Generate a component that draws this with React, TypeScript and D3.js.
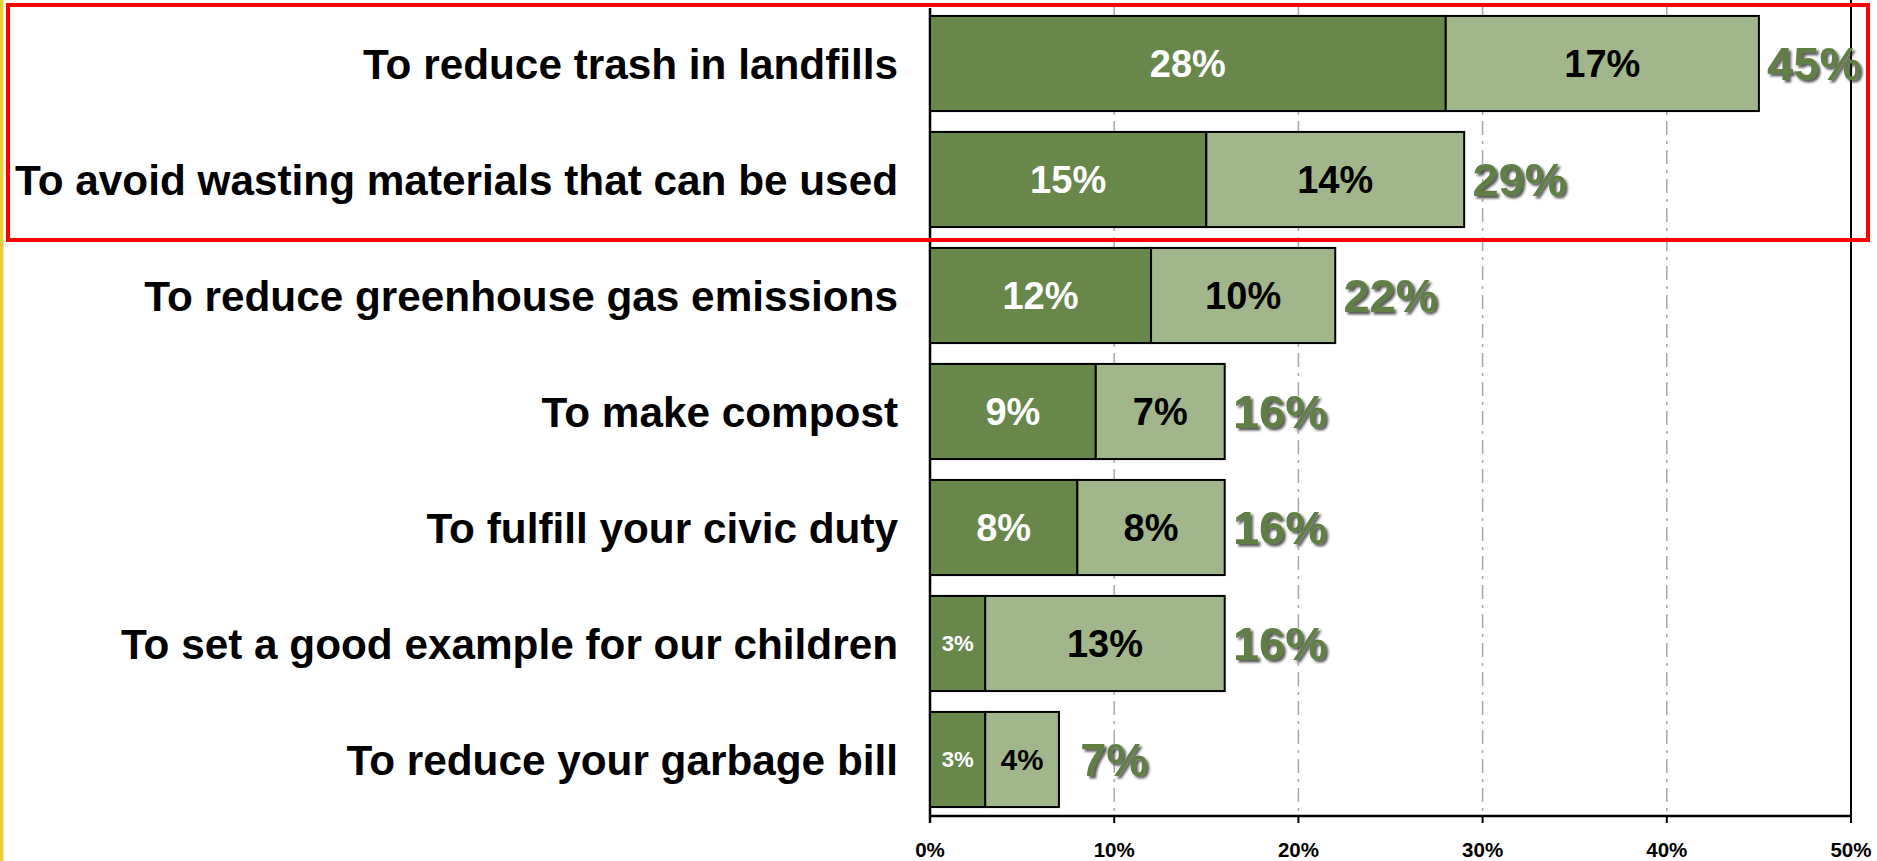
import React, { useEffect } from 'react'
import * as d3 from 'd3'

const categories = [
  'To reduce trash in landfills',
  'To avoid wasting materials that can be used',
  'To reduce greenhouse gas emissions',
  'To make compost',
  'To fulfill your civic duty',
  'To set a good example for our children',
  'To reduce your garbage bill',
]
const primaryValues = [28, 15, 12, 9, 8, 3, 3]
const secondaryValues = [17, 14, 10, 7, 8, 13, 4]
const totalValues = [45, 29, 22, 16, 16, 16, 7]
const xTicks = [0, 10, 20, 30, 40, 50]

const WIDTH = 1877
const HEIGHT = 861
const DARK = '#67874b'
const LIGHT = '#a1b68b'
const TOTAL_COLOR = '#5f7f44'
const FONT = '"Liberation Sans", Arial, sans-serif'

export default function App() {
  useEffect(() => {
    document.body.style.margin = '0'
  }, [])

  const x = d3.scaleLinear().domain([0, 50]).range([930, 1851])
  const y = d3
    .scaleBand<string>()
    .domain(categories)
    .range([5.5, 817.5])
    .paddingInner(0.18)
    .paddingOuter(0.09)
  const bw = y.bandwidth()
  const axisY = 816

  const rows = categories.map((c, i) => ({
    name: c,
    a: primaryValues[i],
    b: secondaryValues[i],
    total: totalValues[i],
  }))

  // smaller font for narrow segments
  const segFont = (w: number) => Math.min(38, w * 0.4)

  return (
    <div style={{ position: 'absolute', left: 0, top: 0 }}>
      <svg width={WIDTH} height={HEIGHT} style={{ display: 'block', background: '#fff' }}>
        <defs>
          <filter id="shadow" x="-20%" y="-20%" width="150%" height="150%">
            <feDropShadow dx="2.5" dy="2.5" stdDeviation="1.2" floodColor="#222" floodOpacity="0.75" />
          </filter>
        </defs>

        {/* yellow strip on the left */}
        <rect x={0} y={0} width={3.5} height={HEIGHT} fill="#e8cf3c" />

        {/* gridlines */}
        {xTicks
          .filter((t) => t > 0 && t < 50)
          .map((t) => (
            <line
              key={'g' + t}
              x1={x(t)}
              x2={x(t)}
              y1={5}
              y2={axisY}
              stroke="#a8a8a8"
              strokeWidth={1.5}
              strokeDasharray="14 6 3 6"
            />
          ))}

        {/* plot borders */}
        <line x1={x(0)} x2={x(0)} y1={8} y2={axisY + 7} stroke="#000" strokeWidth={2.5} />
        <line x1={x(50)} x2={x(50)} y1={0} y2={axisY + 7} stroke="#000" strokeWidth={2} />
        <line x1={x(0)} x2={x(50)} y1={axisY} y2={axisY} stroke="#000" strokeWidth={2.5} />

        {/* ticks and tick labels */}
        {xTicks.map((t) => (
          <g key={'t' + t}>
            <line x1={x(t)} x2={x(t)} y1={axisY} y2={axisY + 7} stroke="#000" strokeWidth={2} />
            <text
              x={x(t)}
              y={857}
              textAnchor="middle"
              fontFamily={FONT}
              fontWeight="bold"
              fontSize={20.5}
              fill="#000"
            >
              {t}%
            </text>
          </g>
        ))}

        {/* bars */}
        {rows.map((r) => {
          const top = y(r.name) as number
          const cy = top + bw / 2
          const x0 = x(0)
          const x1 = x(r.a)
          const x2 = x(r.a + r.b)
          const fa = segFont(x1 - x0)
          const fb = segFont(x2 - x1)
          return (
            <g key={r.name}>
              <rect x={x0} y={top} width={x1 - x0} height={bw} fill={DARK} stroke="#000" strokeWidth={2} />
              <rect x={x1} y={top} width={x2 - x1} height={bw} fill={LIGHT} stroke="#000" strokeWidth={2} />
              <text
                x={(x0 + x1) / 2}
                y={cy + fa * 0.36}
                textAnchor="middle"
                fontFamily={FONT}
                fontWeight="bold"
                fontSize={fa}
                fill="#fff"
              >
                {r.a}%
              </text>
              <text
                x={(x1 + x2) / 2}
                y={cy + fb * 0.36}
                textAnchor="middle"
                fontFamily={FONT}
                fontWeight="bold"
                fontSize={fb}
                fill="#000"
              >
                {r.b}%
              </text>
              <text
                x={x(r.total + 3)}
                y={cy + 47 * 0.36}
                textAnchor="middle"
                fontFamily={FONT}
                fontWeight="bold"
                fontSize={47}
                fill={TOTAL_COLOR}
                filter="url(#shadow)"
              >
                {r.total}%
              </text>
              <text
                x={898}
                y={cy + 42.3 * 0.36}
                textAnchor="end"
                fontFamily={FONT}
                fontWeight="bold"
                fontSize={42.3}
                fill="#000"
              >
                {r.name}
              </text>
            </g>
          )
        })}

        {/* red highlight box */}
        <rect x={8} y={5} width={1860} height={235} fill="none" stroke="#ff0000" strokeWidth={4} />
      </svg>
    </div>
  )
}
